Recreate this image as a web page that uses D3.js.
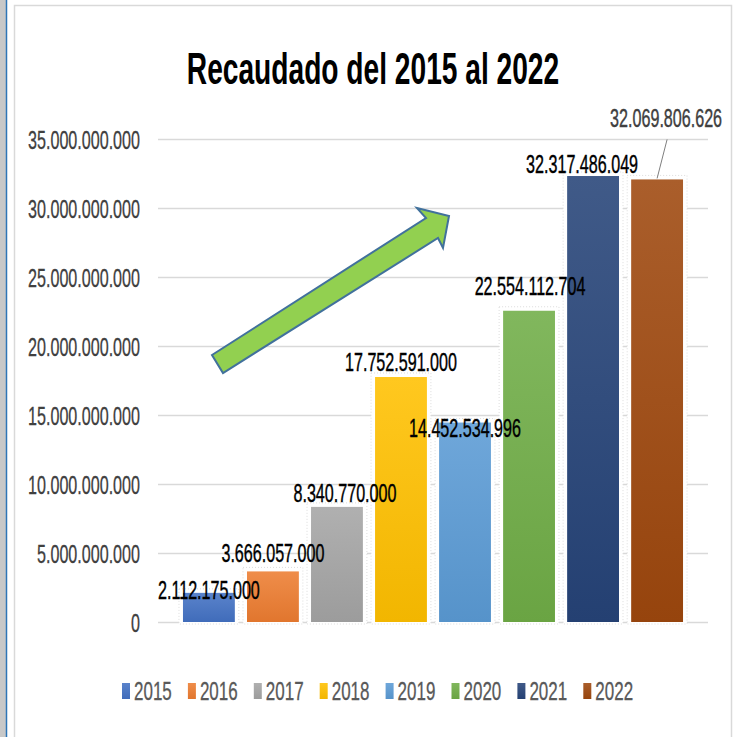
<body style="margin:0;background:#fff">
    <svg width="736" height="737"></svg>
    <script src="https://cdn.jsdelivr.net/npm/d3@7"></script>

    <script>
        // data
        const years = ["2015", "2016", "2017", "2018", "2019", "2020", "2021", "2022"];
        const values = [2112175000, 3666057000, 8340770000, 17752591000, 14452534996, 22554112704, 32317486049, 32069806626];
        const colors = ["#4472c4", "#ed7d31", "#a5a5a5", "#ffc000", "#5b9bd5", "#70ad47", "#264478", "#9e480e"];
        const yTicks = [0, 5e9, 10e9, 15e9, 20e9, 25e9, 30e9, 35e9];
        const title = "Recaudado del 2015 al 2022";

        // manual label nudges (dx, dy from bar centre / bar top), like the dragged excel labels
        const labelDx = [0, 0, 8, 0, 0, 1, -11, 9];
        const labelDy = [6, -9, -5, -6, 14, -16, -3, -52];

        const svg = d3.select("svg");
        const font = "'Liberation Sans', Arial, sans-serif";
        const sx = 0.645; // narrow the glyphs, the source font is condensed

        const locale = d3.formatLocale({ decimal: ",", thousands: ".", grouping: [3], currency: ["", ""] });
        const fmt = locale.format(",d");

        // window edge + chart frame
        svg.append("rect").attr("x", 0).attr("y", 0).attr("width", 6).attr("height", 737).attr("fill", "#c8c8c8");
        svg.append("line").attr("x1", 6.5).attr("x2", 6.5).attr("y1", 0).attr("y2", 737)
            .attr("stroke", "#2e75b6").attr("stroke-width", 1.5);
        svg.append("rect").attr("x", 14.5).attr("y", 5.5).attr("width", 717).attr("height", 740)
            .attr("fill", "none").attr("stroke", "#d9d9d9").attr("stroke-width", 1.5);

        const x = d3.scaleBand()
            .domain(years)
            .range([158, 708])
            .paddingInner(0.19)
            .paddingOuter(0.39);

        const y = d3.scaleLinear()
            .domain([0, 35e9])
            .range([622, 139]);

        // title
        svg.append("text")
            .attr("transform", `translate(373,84) scale(0.64,1)`)
            .attr("text-anchor", "middle")
            .attr("font-family", font)
            .attr("font-weight", "bold")
            .attr("font-size", 44)
            .attr("fill", "#000")
            .text(title);

        // y axis with gridlines
        const yAxis = svg.append("g")
            .attr("transform", "translate(158,0)")
            .call(d3.axisLeft(y).tickValues(yTicks).tickFormat(fmt).tickSize(-550));
        yAxis.select(".domain").remove();
        yAxis.selectAll(".tick line").attr("stroke", "#d9d9d9").attr("stroke-width", 1.5);
        yAxis.selectAll(".tick text")
            .attr("x", -18 / sx)
            .attr("dy", "0.36em")
            .attr("transform", `scale(${sx},1)`)
            .attr("font-family", font)
            .attr("font-size", 25)
            .attr("fill", "#404040")
            .attr("stroke", "#404040")
            .attr("stroke-width", 0.3);

        // gradients for the bars
        const defs = svg.append("defs");
        colors.forEach((c, i) => {
            const g = defs.append("linearGradient").attr("id", "g" + i)
                .attr("x1", 0).attr("x2", 0).attr("y1", 0).attr("y2", 1);
            g.append("stop").attr("offset", "0%").attr("stop-color", d3.interpolateRgb(c, "#fff")(0.12));
            g.append("stop").attr("offset", "100%").attr("stop-color", d3.color(c).darker(0.15));
        });

        const data = years.map((yr, i) => ({ year: yr, value: values[i], i: i }));

        // white glow boxes behind the bars (cut the gridlines like the source)
        svg.append("g")
            .selectAll("rect")
            .data(data)
            .enter().append("rect")
            .attr("x", d => x(d.year) - 4)
            .attr("y", d => y(d.value) - 4)
            .attr("width", x.bandwidth() + 8)
            .attr("height", d => y(0) - y(d.value) + 6)
            .attr("fill", "#fff")
            .attr("stroke", "#dcdcdc")
            .attr("stroke-dasharray", "1,2");

        svg.append("g")
            .selectAll("rect")
            .data(data)
            .enter().append("rect")
            .attr("x", d => x(d.year))
            .attr("y", d => y(d.value))
            .attr("width", x.bandwidth())
            .attr("height", d => y(0) - y(d.value))
            .attr("fill", d => `url(#g${d.i})`);

        // leader line for the last label
        const last = data[data.length - 1];
        const lx = x(last.year) + x.bandwidth() / 2;
        svg.append("line")
            .attr("x1", lx + labelDx[last.i] + 1)
            .attr("y1", y(last.value) + labelDy[last.i] + 12)
            .attr("x2", lx)
            .attr("y2", y(last.value) - 1)
            .attr("stroke", "#7f7f7f")
            .attr("stroke-width", 1);

        // value labels
        svg.append("g")
            .selectAll("text")
            .data(data)
            .enter().append("text")
            .attr("transform", d => `translate(${x(d.year) + x.bandwidth() / 2 + labelDx[d.i]},${y(d.value) + labelDy[d.i]}) scale(${sx},1)`)
            .attr("text-anchor", "middle")
            .attr("font-family", font)
            .attr("font-size", 25)
            .attr("fill", d => d.i === 7 ? "#404040" : "#000")
            .attr("stroke", d => d.i === 7 ? "#404040" : "#000")
            .attr("stroke-width", 0.4)
            .text(d => fmt(d.value));

        // green trend arrow (annotation)
        const arrow = [[212, 355], [426, 218], [417, 208], [449, 216], [443, 248], [438, 238], [223, 373]];
        svg.append("path")
            .attr("d", d3.line()(arrow) + "Z")
            .attr("fill", "#92d050")
            .attr("stroke", "#41719c")
            .attr("stroke-width", 2)
            .attr("stroke-linejoin", "miter");

        // legend
        const legend = svg.append("g")
            .attr("transform", "translate(122,683)");

        const item = legend.selectAll("g")
            .data(data)
            .enter().append("g")
            .attr("transform", d => `translate(${d.i * 65.9},0)`);

        item.append("rect")
            .attr("width", 8)
            .attr("height", 16)
            .attr("fill", d => `url(#g${d.i})`);

        item.append("text")
            .attr("transform", `translate(12,17) scale(0.68,1)`)
            .attr("font-family", font)
            .attr("font-size", 25)
            .attr("fill", "#595959")
            .attr("stroke", "#595959")
            .attr("stroke-width", 0.3)
            .text(d => d.year);
    </script>
</body>
